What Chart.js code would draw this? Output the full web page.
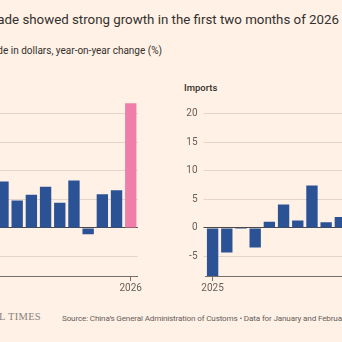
<!DOCTYPE html>
<html>
<head>
<meta charset="utf-8">
<script src="https://cdn.jsdelivr.net/npm/chart.js@4/dist/chart.umd.min.js"></script>
<style>
  html, body { margin: 0; padding: 0; }
  body {
    width: 342px; height: 342px; overflow: hidden; position: relative;
    background: #FFF1E5; font-family: Roboto, 'Noto Sans', sans-serif; color: #33302e;
  }
  .abs { position: absolute; white-space: nowrap; }
  #title { right: 3px; top: 10px; font-size: 13.3px; line-height: 20px; color: #33302e; }
  #subtitle { right: 180px; top: 44px; font-size: 10px; line-height: 14px; color: #33302e; }
  .panel-label { font-size: 9.5px; font-weight: 500; line-height: 12px; color: #33302e; top: 82px; }
  #source { left: 62px; top: 312px; font-size: 8.1px; line-height: 12px; letter-spacing: -0.15px; color: #66605c; }
  #logo { right: 301px; top: 310px; font-family: 'Liberation Serif', 'DejaVu Serif', serif;
          font-size: 10.5px; line-height: 14px; letter-spacing: 0.3px; color: #8a827c; }
  canvas { position: absolute; top: 90px; }
  #exportsChart { left: -66.6px; }
  #importsChart { left: 171px; }
</style>
</head>
<body>
<div id="title" class="abs">China’s trade showed strong growth in the first two months of 2026</div>
<div id="subtitle" class="abs">Trade in dollars, year-on-year change (%)</div>
<div id="exportsLabel" class="abs panel-label" style="left:-53px">Exports</div>
<div id="importsLabel" class="abs panel-label" style="left:184px">Imports</div>
<canvas id="exportsChart" width="210" height="210"></canvas>
<canvas id="importsChart" width="210" height="210"></canvas>
<div id="logo" class="abs">FINANCIAL TIMES</div>
<div id="source" class="abs">Source: China’s General Administration of Customs • Data for January and February are combined</div>

<script>
// Monthly periods (January and February reported together)
const categories = ['Jan–Feb 2025', 'Mar 2025', 'Apr 2025', 'May 2025', 'Jun 2025', 'Jul 2025',
                    'Aug 2025', 'Sep 2025', 'Oct 2025', 'Nov 2025', 'Dec 2025', 'Jan–Feb 2026'];
// Year-on-year change, %
const exportsPct = [2.3, 12.4, 8.1, 4.8, 5.8, 7.2, 4.4, 8.3, -1.1, 5.9, 6.6, 21.8];
const importsPct = [-8.4, -4.3, -0.2, -3.4, 1.1, 4.1, 1.3, 7.4, 1.0, 1.9, 5.7, null];
// Axis labels
const xTickLabels = ['2025', '', '', '', '', '', '', '', '', '', '', '2026'];
const yTickValues = [-5, 0, 5, 10, 15, 20];
const yMin = -8.4;
const yMax = 22;

const BLUE = '#2a5294';
const PINK = '#ef7fa8';
const GRID = '#e2d5ca';
const ZERO = '#4d4845';
const AXIS = '#77706a';
const TEXT = '#66605c';

Chart.defaults.font.family = "Roboto, 'Noto Sans', sans-serif";
Chart.defaults.color = TEXT;

function barChart(canvasId, values) {
  const colors = values.map((v, i) => i === values.length - 1 ? PINK : BLUE);
  return new Chart(document.getElementById(canvasId), {
    type: 'bar',
    data: {
      labels: categories,
      datasets: [{
        data: values,
        backgroundColor: colors,
        borderWidth: 0,
        barPercentage: 0.8,
        categoryPercentage: 1.0
      }]
    },
    options: {
      responsive: false,
      animation: false,
      devicePixelRatio: 1,
      layout: { padding: { top: 8, right: 0.4, left: 0, bottom: 0 } },
      plugins: { legend: { display: false }, tooltip: { enabled: false } },
      scales: {
        x: {
          type: 'category',
          offset: true,
          grid: {
            offset: false,
            drawOnChartArea: false,
            drawTicks: true,
            tickLength: 5,
            color: ctx => xTickLabels[ctx.index] ? AXIS : 'rgba(0,0,0,0)'
          },
          border: { display: true, color: AXIS, width: 1 },
          ticks: {
            autoSkip: false,
            maxRotation: 0,
            padding: 1,
            color: TEXT,
            font: { size: 10 },
            callback: (v, i) => xTickLabels[i]
          },
          afterFit: s => { s.height = 24; }
        },
        y: {
          min: yMin,
          max: yMax,
          afterBuildTicks: s => { s.ticks = yTickValues.map(v => ({ value: v })); },
          grid: {
            drawTicks: true,
            tickLength: 2,
            color: ctx => (ctx.tick && ctx.tick.value === 0) ? ZERO : GRID,
            lineWidth: 1
          },
          border: { display: false },
          ticks: {
            padding: 6,
            color: TEXT,
            font: { size: 10 },
            callback: v => String(v)
          },
          afterFit: s => { s.width = 34.5; }
        }
      }
    }
  });
}

barChart('exportsChart', exportsPct);
barChart('importsChart', importsPct);
</script>
</body>
</html>
